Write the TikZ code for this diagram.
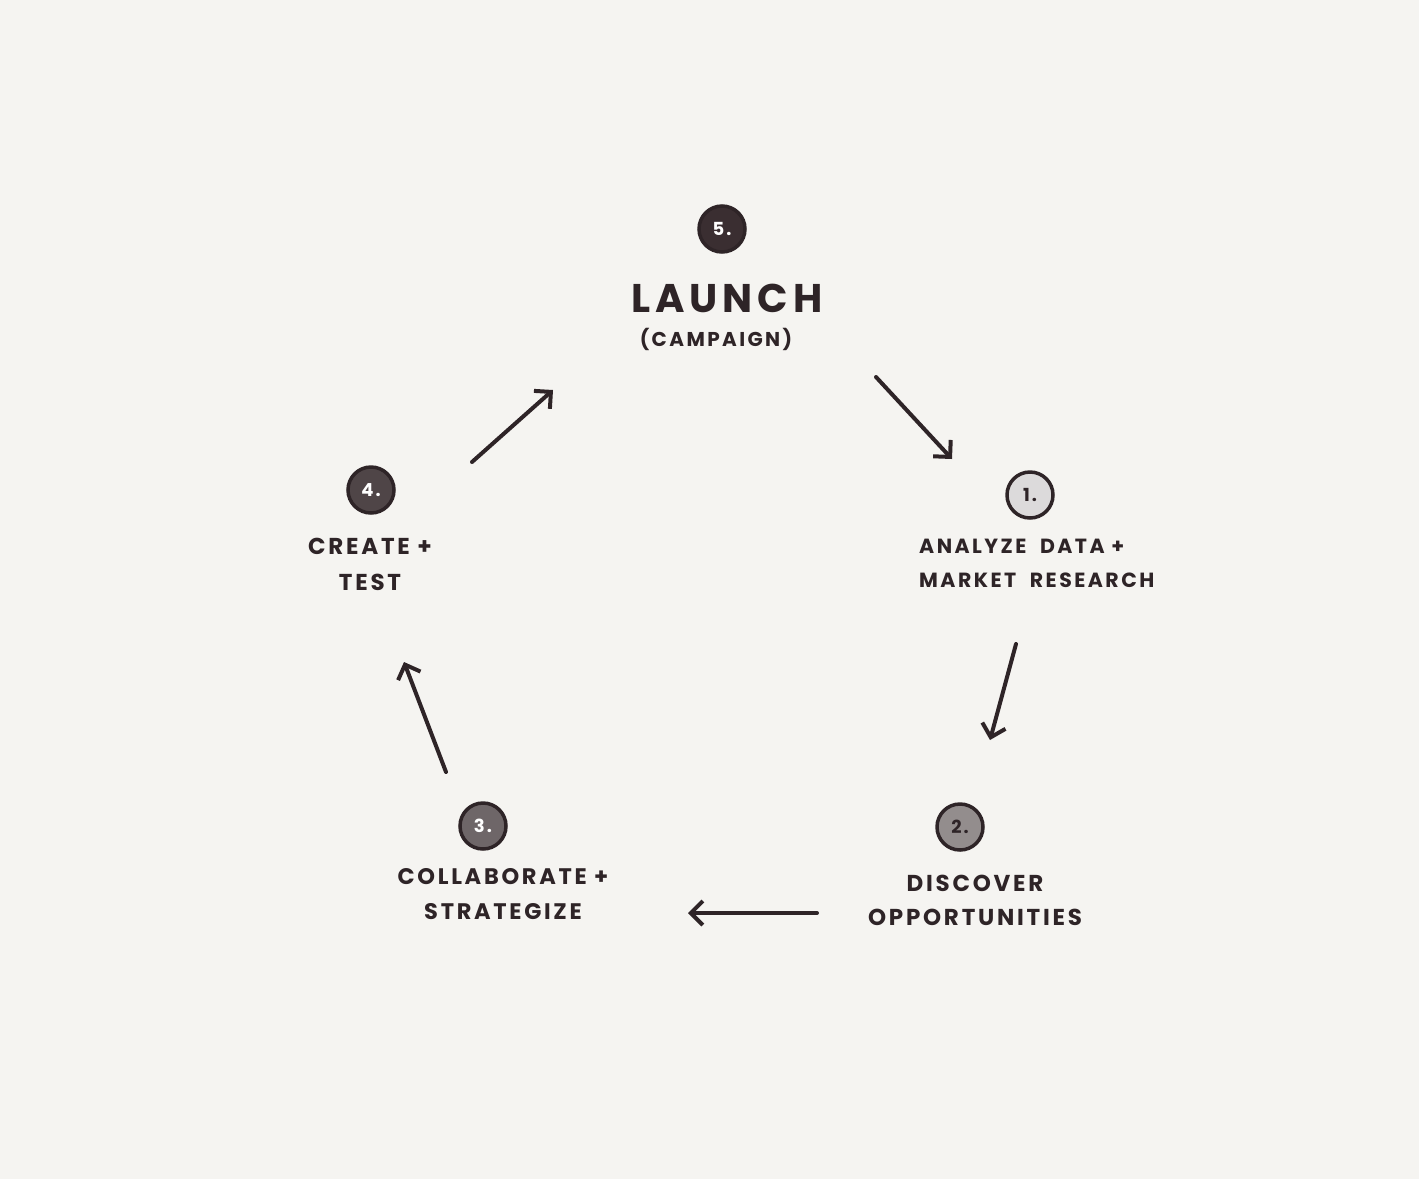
\documentclass[tikz,border=0pt]{standalone}
\usepackage{fontspec}
\usetikzlibrary{arrows.meta}
\newfontfamily\handfont[LetterSpace=12]{Poppins}
\definecolor{paper}{HTML}{F5F4F1}
\definecolor{ink}{HTML}{2E2427}
\definecolor{stepa}{HTML}{DCDADB}
\definecolor{stepb}{HTML}{938D8D}
\definecolor{stepc}{HTML}{6E6668}
\definecolor{stepd}{HTML}{4F4547}
\definecolor{stepe}{HTML}{3A2E31}
\tikzstyle{numc}=[circle,draw=ink,line width=3.5pt,minimum size=46pt,inner sep=0pt,font=\handfont\bfseries\fontsize{18}{18}\selectfont]
\tikzstyle{lbl}=[align=center,text=ink,inner sep=0pt,font=\handfont\bfseries\fontsize{21.5}{34}\selectfont]
\tikzstyle{cyc}=[-{Straight Barb[length=12pt,width=24pt,line width=4pt]},line width=4pt,ink,line cap=round]
\begin{document}
\begin{tikzpicture}[x=1pt,y=-1pt]
\useasboundingbox[fill=paper] (0,0) rectangle (1419,1179);
\node[numc,fill=stepe,text=white] (n5) at (722,229) {5.};
\node[numc,fill=stepa,text=ink] (n1) at (1030,495) {1.};
\node[numc,fill=stepb,text=ink] (n2) at (960,827) {2.};
\node[numc,fill=stepc,text=white] (n3) at (483,826) {3.};
\node[numc,fill=stepd,text=white] (n4) at (371,490) {4.};
\node[lbl,font=\handfont\bfseries\fontsize{40}{40}\selectfont] (l5) at (727,298) {LAUNCH};
\node[lbl,font=\handfont\bfseries\fontsize{20}{20}\selectfont] (l5b) at (716,339) {(CAMPAIGN)};
\node[lbl,align=left,anchor=west,font=\handfont\bfseries\fontsize{20.5}{34}\selectfont] (l1) at (919,563) {ANALYZE\ \ DATA +\\MARKET\ \ RESEARCH};
\node[lbl,font=\handfont\bfseries\fontsize{23}{34}\selectfont] (l2) at (975,900) {DISCOVER\\OPPORTUNITIES};
\node[lbl,font=\handfont\bfseries\fontsize{22.5}{35}\selectfont] (l3) at (503,894) {COLLABORATE +\\STRATEGIZE};
\node[lbl,font=\handfont\bfseries\fontsize{23}{36}\selectfont] (l4) at (370,564) {CREATE +\\TEST};
\coordinate (a5) at (876,377); \coordinate (b1) at (952,459);
\coordinate (a1) at (1016,644); \coordinate (b2) at (990,740);
\coordinate (a2) at (817,913); \coordinate (b3) at (688,913);
\coordinate (a3) at (446,772); \coordinate (b4) at (404,662);
\coordinate (a4) at (472,462); \coordinate (b5) at (553,390);
\draw[cyc] (a5)--(b1);
\draw[cyc] (a1)--(b2);
\draw[cyc] (a2)--(b3);
\draw[cyc] (a3)--(b4);
\draw[cyc] (a4)--(b5);
\end{tikzpicture}
\end{document}
